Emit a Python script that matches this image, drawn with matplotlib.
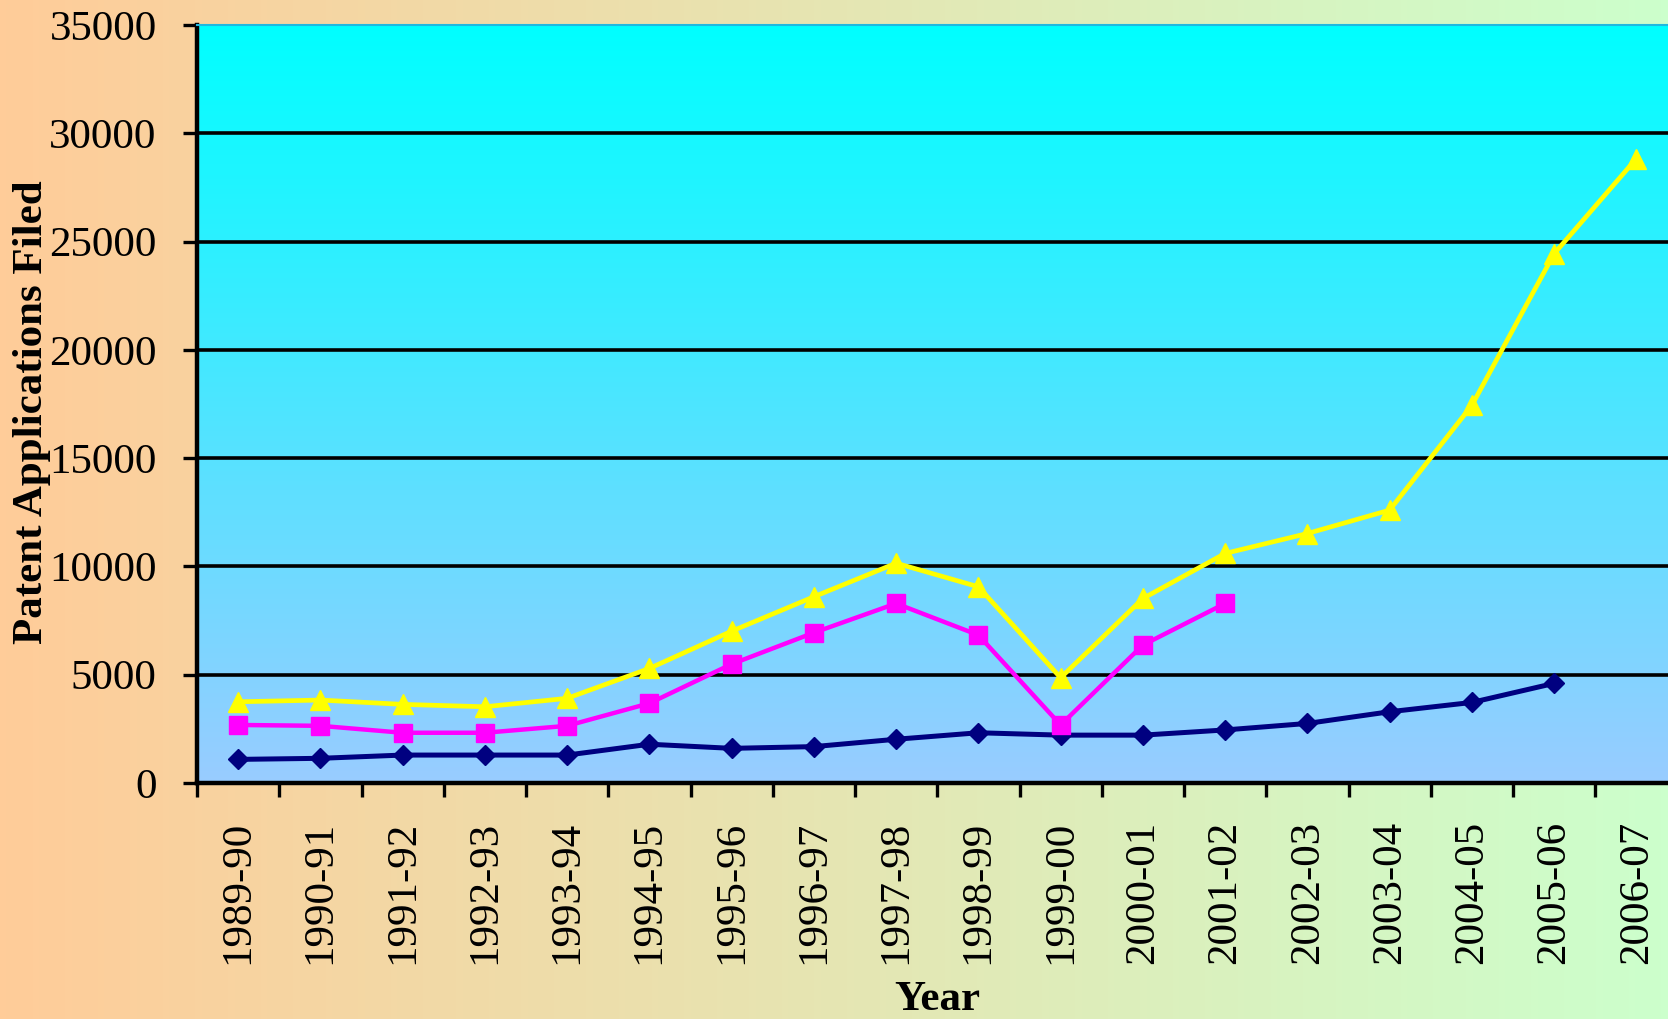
import numpy as np
import matplotlib
matplotlib.use("Agg")
import matplotlib.pyplot as plt
from matplotlib.colors import LinearSegmentedColormap

# data
years = ["1989-90", "1990-91", "1991-92", "1992-93", "1993-94", "1994-95",
         "1995-96", "1996-97", "1997-98", "1998-99", "1999-00", "2000-01",
         "2001-02", "2002-03", "2003-04", "2004-05", "2005-06", "2006-07"]
navy_vals = [1090, 1140, 1290, 1290, 1290, 1790, 1600, 1680, 2020, 2320,
             2210, 2210, 2450, 2750, 3290, 3720, 4600]
magenta_vals = [2680, 2640, 2320, 2320, 2640, 3680, 5490, 6940, 8290, 6830,
                2680, 6370, 8290]
yellow_vals = [3750, 3830, 3630, 3520, 3910, 5290, 7010, 8600, 10150, 9060,
               4860, 8520, 10600, 11520, 12600, 17440, 24440, 28830]
yticks = [0, 5000, 10000, 15000, 20000, 25000, 30000, 35000]

plt.rcParams["font.family"] = ["Liberation Serif", "DejaVu Serif"]

W, H = 1668, 1019
fig = plt.figure(figsize=(W / 100, H / 100), dpi=100)

# figure background: peach -> light green
bg = fig.add_axes([0, 0, 1, 1], zorder=-10)
bg_cmap = LinearSegmentedColormap.from_list("bg", ["#FFCC99", "#CCFFCC"])
bg.imshow(np.linspace(0, 1, 256).reshape(1, -1), cmap=bg_cmap,
          aspect="auto", extent=[0, 1, 0, 1])
bg.axis("off")

# plot area
left, right, top, bottom = 197, 197 + 18 * 82.25, 25, 783
ax = fig.add_axes([left / W, (H - bottom) / H, (right - left) / W, (bottom - top) / H])
pa_cmap = LinearSegmentedColormap.from_list("pa", ["#99CCFF", "#00FFFF"])
ax.imshow(np.linspace(0, 1, 256).reshape(-1, 1), cmap=pa_cmap, origin="lower",
          aspect="auto", extent=[0, 1, 0, 1], transform=ax.transAxes, zorder=-1)

ax.plot(range(len(navy_vals)), navy_vals, color="#000080", lw=3.6,
        marker="D", ms=10.5, mec="#000080", zorder=3)
ax.plot(range(len(magenta_vals)), magenta_vals, color="#FF00FF", lw=3.2,
        marker="s", ms=13, mec="#FF00FF", zorder=4)
ax.plot(range(len(yellow_vals)), yellow_vals, color="#FFFF00", lw=3.4,
        marker="^", ms=14, mec="#FFFF00", zorder=5)

ax.set_xlim(-0.5, len(years) - 0.5)
ax.set_ylim(0, 35000)

# horizontal gridlines
for v in yticks[1:-1]:
    ax.axhline(v, color="black", lw=2.6, zorder=1)

ax.set_yticks(yticks)
ax.set_yticklabels([str(v) for v in yticks], fontsize=31)
ax.tick_params(axis="y", direction="out", length=10, width=2.4, pad=19)

ax.set_xticks(range(len(years)))
ax.set_xticklabels(years, rotation=90, fontsize=31)
ax.tick_params(axis="x", which="major", length=0, pad=27)
ax.set_xticks(np.arange(-0.5, len(years)), minor=True)
ax.tick_params(axis="x", which="minor", direction="out", length=10, width=2.4)

for s in ["left", "bottom"]:
    ax.spines[s].set_linewidth(3.2)
    ax.spines[s].set_color("black")
ax.spines["top"].set_color("#20B8E0")
ax.spines["top"].set_linewidth(1.5)
ax.spines["right"].set_visible(False)

fig.text(32 / W, 1 - 412 / H, "Patent Applications Filed", rotation=90,
         ha="center", va="center", fontsize=31, fontweight="bold")
fig.text(937 / W, 1 - 1010 / H, "Year", ha="center", va="baseline",
         fontsize=31, fontweight="bold")

fig.savefig("out.png", dpi=100)
